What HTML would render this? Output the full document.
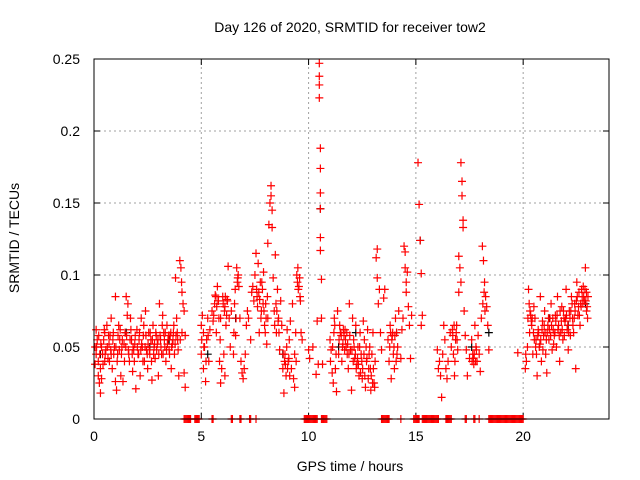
<!DOCTYPE html>
<html><head><meta charset="utf-8">
<style>
html,body{margin:0;padding:0;background:#fff;}
svg{display:block;font-family:"Liberation Sans",sans-serif;}
</style></head>
<body>
<svg id="chart" width="640" height="480" viewBox="0 0 640 480">
<text x="350" y="32" text-anchor="middle" font-size="14" fill="#000">Day 126 of 2020, SRMTID for receiver tow2</text>
<text x="0" y="0" transform="translate(19,238) rotate(-90)" text-anchor="middle" font-size="14" fill="#000">SRMTID / TECUs</text>
<text x="350" y="471" text-anchor="middle" font-size="14" fill="#000">GPS time / hours</text>
<g id="grid"></g>
<g id="ticks"></g>
<g id="marks"></g>
<rect x="94" y="59" width="515" height="360" fill="none" stroke="#000" stroke-width="1"/>
</svg>
<script>
const xTicks = [0,5,10,15,20];
const yTicks = [0,0.05,0.1,0.15,0.2,0.25];
const yTickLabels = ["0","0.05","0.1","0.15","0.2","0.25"];
const hours = [0.05,0.05,0.1,0.1,0.15,0.2,0.2,0.25,0.3,0.3,0.35,0.35,0.4,0.45,0.5,0.5,0.55,0.6,0.65,0.7,0.75,0.8,0.8,0.85,0.9,0.95,1.0,1.0,1.05,1.1,1.15,1.2,1.25,1.3,1.35,1.4,1.45,1.5,1.55,1.6,1.65,1.7,1.75,1.8,1.85,1.9,1.95,2.0,2.05,2.1,2.15,2.2,2.25,2.3,2.35,2.4,2.45,2.5,2.55,2.6,2.65,2.7,2.75,2.8,2.85,2.9,2.95,3.0,3.05,3.1,3.15,3.2,3.25,3.3,3.35,3.4,3.45,3.5,3.55,3.6,3.65,3.7,3.75,3.8,3.85,3.9,3.95,4.0,4.05,4.1,4.1,4.15,4.2,4.25,4.2,4.25,
5.0,5.0,5.05,5.1,5.1,5.15,5.2,5.25,5.3,5.35,5.4,5.5,5.55,5.65,5.7,5.75,5.8,5.85,5.9,5.9,5.95,6.0,6.05,6.1,6.1,6.15,6.2,6.25,6.3,6.35,6.4,6.5,6.55,6.6,6.65,6.7,6.75,6.8,6.85,6.9,6.95,7.0,7.05,7.1,7.15,7.2,7.3,7.35,7.4,7.45,7.5,7.55,7.6,7.65,7.7,7.75,7.8,7.85,7.9,7.95,8.0,8.05,8.1,8.1,8.15,8.2,8.25,8.25,8.3,8.3,8.35,8.4,8.45,8.5,8.55,8.6,8.65,8.7,8.75,8.8,8.85,8.9,8.95,9.0,9.05,9.1,9.15,9.2,9.25,9.3,9.35,9.4,9.45,9.5,9.55,9.6,9.65,9.7,9.35,
10.0,10.05,10.2,10.35,10.4,10.45,10.5,10.5,10.5,10.5,10.55,10.55,10.55,10.55,10.55,10.55,10.6,10.65,10.6,11.0,11.05,11.1,11.15,11.2,11.25,11.3,11.35,11.4,11.45,11.5,11.55,11.6,11.65,11.7,11.75,11.8,11.85,11.9,11.95,12.0,12.05,12.1,12.15,12.2,12.25,12.3,12.35,12.4,12.45,12.5,12.55,12.6,12.65,12.7,12.75,12.8,12.85,12.9,12.95,13.0,13.05,13.1,13.15,13.2,13.2,13.25,13.3,13.35,13.4,13.5,13.55,13.7,13.75,13.8,13.85,13.9,13.95,14.0,14.05,14.1,14.15,14.2,14.3,14.35,14.4,14.45,14.5,14.5,14.55,14.55,14.6,14.65,14.7,14.75,14.8,
15.1,15.15,15.2,15.25,15.3,15.25,16.0,16.05,16.1,16.15,16.2,16.25,16.3,16.35,16.4,16.45,16.5,16.6,16.65,16.7,16.75,16.8,16.85,16.9,16.95,17.0,17.0,17.05,17.1,17.1,17.15,17.15,17.2,17.2,17.25,17.3,17.35,17.4,17.5,17.6,17.65,17.7,17.75,17.8,17.85,17.9,17.95,18.0,18.05,18.1,18.15,18.2,18.25,18.3,18.35,18.4,19.75,
20.1,20.15,20.2,20.25,20.3,20.35,20.4,20.45,20.5,20.55,20.6,20.65,20.7,20.75,20.8,20.85,20.9,20.95,21.0,21.05,21.1,21.15,21.2,21.25,21.3,21.35,21.4,21.45,21.5,21.55,21.6,21.65,21.7,21.75,21.8,21.85,21.9,21.95,22.0,22.05,22.1,22.15,22.2,22.25,22.3,22.35,22.4,22.45,22.5,22.55,22.6,22.65,22.7,22.75,22.8,22.85,22.9,22.95,23.0,22.95];
const srmtid = [.038,.05,.062,.045,.055,.03,.04,.025,.018,.035,.028,.05,.045,.055,.04,.06,.048,.065,.042,.052,.058,.07,.045,.035,.06,.05,.085,.026,.02,.045,.065,.055,.03,.05,.026,.052,.06,.085,.072,.048,.04,.07,.055,.033,.048,.052,.021,.062,.045,.055,.03,.07,.05,.058,.04,.075,.048,.035,.06,.045,.055,.027,.065,.05,.042,.058,.052,.03,.08,.055,.045,.072,.06,.05,.04,.065,.055,.048,.058,.035,.052,.06,.045,.098,.07,.055,.03,.11,.105,.088,.06,.08,.032,.022,.075,.058,
.065,.045,.072,.06,.035,.05,.026,.055,.07,.04,.062,.075,.068,.086,.06,.092,.082,.04,.07,.025,.035,.085,.045,.078,.03,.065,.083,.106,.07,.05,.075,.045,.08,.058,.105,.098,.092,.07,.04,.032,.028,.035,.045,.065,.075,.07,.055,.088,.092,.082,.1,.115,.085,.108,.06,.095,.075,.09,.102,.065,.08,.052,.07,.122,.135,.15,.155,.162,.145,.133,.098,.075,.114,.06,.09,.07,.048,.082,.065,.035,.018,.045,.03,.062,.04,.055,.068,.035,.08,.028,.045,.06,.1,.105,.092,.085,.06,.055,.022,
.048,.042,.05,.031,.068,.038,.247,.238,.232,.223,.188,.174,.157,.146,.126,.117,.097,.038,.07,.055,.048,.032,.025,.07,.035,.019,.075,.045,.065,.06,.04,.052,.058,.062,.05,.045,.035,.08,.048,.02,.07,.055,.042,.065,.038,.05,.03,.06,.045,.028,.068,.055,.022,.04,.062,.035,.05,.02,.045,.06,.025,.04,.112,.118,.098,.08,.09,.06,.048,.084,.09,.055,.04,.065,.028,.058,.045,.035,.07,.06,.05,.075,.042,.062,.07,.12,.116,.105,.095,.088,.102,.078,.065,.042,.072,
.178,.149,.124,.101,.072,.065,.048,.035,.04,.03,.015,.045,.065,.055,.035,.028,.04,.06,.05,.062,.045,.03,.055,.065,.048,.088,.113,.105,.095,.178,.165,.155,.138,.133,.075,.058,.048,.03,.042,.055,.045,.038,.065,.05,.04,.058,.045,.033,.07,.12,.11,.095,.085,.078,.065,.048,.046,
.035,.04,.05,.09,.06,.072,.065,.045,.078,.07,.055,.03,.062,.05,.085,.04,.068,.058,.075,.045,.032,.065,.055,.07,.08,.048,.062,.058,.072,.05,.085,.065,.04,.06,.078,.055,.07,.068,.09,.062,.048,.075,.058,.085,.07,.06,.08,.035,.095,.072,.088,.065,.078,.085,.092,.082,.105,.075,.07,.088];
const hoursB = [0.12,0.22,0.27,0.32,0.42,0.48,0.52,0.62,0.68,0.72,0.78,0.88,0.92,1.02,1.08,1.12,1.18,1.22,1.28,1.32,1.42,1.48,1.52,1.58,1.62,1.68,1.72,1.78,1.82,1.88,1.92,2.02,2.08,2.12,2.18,2.22,2.28,2.32,2.38,2.42,2.48,2.52,2.58,2.62,2.68,2.72,2.78,2.82,2.88,2.92,2.98,3.02,3.08,3.12,3.18,3.22,3.28,3.32,3.38,3.42,3.48,3.52,3.58,3.62,3.68,3.72,3.78,3.82,3.88,3.92,4.02,4.08,
5.02,5.12,5.22,5.32,5.58,5.62,5.68,5.72,5.78,5.82,5.88,6.02,6.08,6.12,6.18,6.22,6.52,6.58,6.62,6.68,6.72,7.58,7.62,7.68,7.72,7.78,7.82,7.88,7.92,7.98,8.02,8.08,8.42,8.48,8.52,8.58,8.62,8.82,8.88,8.92,8.98,9.02,9.08,9.12,9.42,9.48,9.52,9.58,9.62,
11.02,11.12,11.18,11.22,11.28,11.42,11.48,11.52,11.58,11.62,11.68,11.72,11.78,11.82,11.88,11.92,12.02,12.08,12.12,12.18,12.22,12.28,12.32,12.38,12.42,12.48,12.52,12.58,12.62,12.68,12.72,12.78,12.82,12.88,12.92,12.98,13.02,13.08,13.78,13.82,13.88,13.92,13.98,14.02,14.08,14.12,
16.72,16.78,16.82,16.88,16.92,17.62,17.68,17.72,17.78,17.82,18.12,18.18,18.22,
20.12,20.22,20.28,20.32,20.38,20.42,20.48,20.52,20.58,20.62,20.68,20.72,20.78,20.82,20.88,20.92,20.98,21.02,21.08,21.12,21.18,21.22,21.28,21.32,21.38,21.42,21.48,21.52,21.58,21.62,21.68,21.72,21.78,21.82,21.88,21.92,21.98,22.02,22.08,22.12,22.18,22.22,22.28,22.32,22.38,22.42,22.48,22.52,22.58,22.62,22.68,22.72,22.78,22.82,22.88,22.92,22.98,23.02];
const srmtidB = [.05,.058,.045,.052,.038,.062,.045,.05,.058,.04,.048,.055,.045,.05,.04,.058,.048,.062,.045,.055,.04,.05,.058,.08,.045,.055,.062,.045,.05,.04,.058,.05,.045,.06,.048,.052,.04,.065,.05,.058,.045,.052,.048,.06,.04,.055,.045,.052,.06,.048,.055,.045,.058,.05,.065,.045,.055,.06,.048,.052,.058,.045,.06,.05,.055,.065,.052,.058,.06,.048,.055,.095,
.055,.05,.04,.058,.072,.08,.085,.078,.082,.07,.055,.08,.075,.085,.072,.082,.06,.09,.07,.095,.1,.09,.078,.088,.083,.07,.095,.08,.075,.06,.07,.085,.065,.08,.075,.068,.06,.045,.04,.038,.05,.035,.042,.03,.04,.095,.09,.098,.082,
.04,.05,.06,.065,.045,.055,.06,.058,.05,.062,.048,.055,.06,.052,.045,.058,.048,.04,.05,.045,.035,.042,.038,.05,.032,.04,.035,.045,.03,.05,.042,.028,.045,.035,.03,.025,.035,.022,.05,.06,.055,.06,.05,.058,.04,.045,
.058,.065,.04,.06,.055,.04,.042,.045,.04,.048,.08,.088,.075,
.045,.07,.08,.075,.068,.07,.06,.055,.05,.045,.058,.06,.052,.055,.062,.048,.065,.06,.055,.06,.07,.062,.058,.065,.07,.052,.06,.068,.072,.062,.058,.075,.068,.062,.075,.058,.07,.072,.065,.06,.07,.075,.08,.065,.07,.075,.082,.085,.078,.072,.08,.09,.08,.085,.09,.082,.078,.085];
const zeroHours = [4.2,4.25,4.3,4.35,4.4,4.45,4.5,4.7,4.75,4.8,4.85,4.9,5.5,5.55,6.4,6.45,6.8,6.85,7.25,7.3,7.55,9.8,9.85,9.9,9.95,10.0,10.05,10.1,10.15,10.2,10.25,10.3,10.35,10.4,10.6,10.65,10.7,10.75,10.8,10.85,13.4,13.45,13.5,13.55,13.6,13.65,13.7,13.75,14.3,14.9,14.95,15.0,15.05,15.1,15.15,15.3,15.35,15.4,15.45,15.5,15.55,15.6,15.65,15.7,15.75,15.8,15.85,15.9,15.95,16.0,16.05,16.4,16.45,16.5,16.55,16.6,16.65,17.3,17.35,17.7,17.75,17.95,18.4,18.45,18.5,18.55,18.6,18.65,18.7,18.75,18.8,18.85,18.9,18.95,19.0,19.05,19.1,19.15,19.2,19.25,19.3,19.35,19.4,19.45,19.5,19.55,19.6,19.65,19.7,19.75,19.8,19.85,19.9,19.95,20.0];
const blackHours = [0.3,1.5,2.6,3.5,5.3,6.6,8.8,10.55,11.4,12.2,14.1,15.2,17.6,18.4,21.2,22.1,22.9];
const blackVals = [.045,.06,.05,.055,.045,.07,.045,.146,.05,.06,.06,.124,.05,.06,.07,.065,.08];

const X0=94, X1=609, Y0=419, Y1=59;
function xs(h){return X0+(h/24)*(X1-X0);}
function ys(v){return Y0-(v/0.25)*(Y0-Y1);}
const NS="http://www.w3.org/2000/svg";
const grid=document.getElementById('grid'), ticks=document.getElementById('ticks'), marks=document.getElementById('marks');
function mk(tag,attrs,parent){const e=document.createElementNS(NS,tag);for(const k in attrs)e.setAttribute(k,attrs[k]);parent.appendChild(e);return e;}
xTicks.forEach(t=>{
  const x=xs(t);
  if(t>0){const g=mk('line',{x1:x,y1:Y0,x2:x,y2:Y1,stroke:'#a0a0a0','stroke-dasharray':'2,3'},grid);
  
  }
  mk('line',{x1:x,y1:Y0,x2:x,y2:Y0-6,stroke:'#000'},ticks);
  mk('line',{x1:x,y1:Y1,x2:x,y2:Y1+6,stroke:'#000'},ticks);
  const tx=mk('text',{x:x,y:Y0+22,'text-anchor':'middle','font-size':'14',fill:'#000'},ticks);
  tx.textContent=String(t);
  
  
});
yTicks.forEach((t,i)=>{
  const y=ys(t);
  if(t>0&&t<0.25){const g=mk('line',{x1:X0,y1:y,x2:X1,y2:y,stroke:'#a0a0a0','stroke-dasharray':'2,3'},grid);
  
  }
  mk('line',{x1:X0,y1:y,x2:X0+6,y2:y,stroke:'#000'},ticks);
  mk('line',{x1:X1,y1:y,x2:X1-6,y2:y,stroke:'#000'},ticks);
  const tx=mk('text',{x:X0-14,y:y+5,'text-anchor':'end','font-size':'14',fill:'#000'},ticks);
  tx.textContent=yTickLabels[i];
  
  
});
function plus(h,v,color,name){
  const x=xs(h), y=ys(v);
  const p=mk('path',{d:`M${x-4},${y}H${x+4}M${x},${y-4}V${y+4}`,stroke:color,'stroke-width':'1.2','fill':'none'},marks);
  
  
}
blackHours.forEach((h,i)=>plus(h,blackVals[i],'#000','black-point'));
hours.forEach((h,i)=>plus(h,srmtid[i],'#ff0000','srmtid-point'));
hoursB.forEach((h,i)=>plus(h,srmtidB[i],'#ff0000','srmtid-point'));
zeroHours.forEach(h=>plus(h,0,'#ff0000','zero-point'));
</script>
</body></html>
